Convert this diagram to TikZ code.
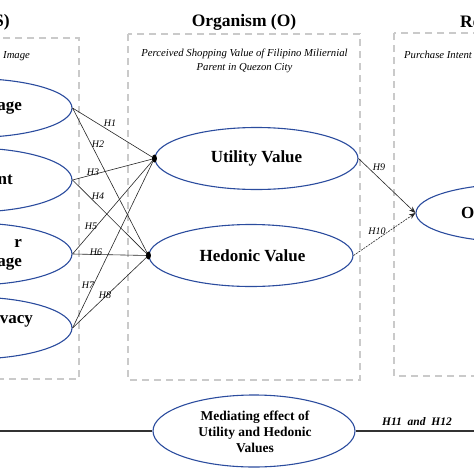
\documentclass[tikz,border=0pt]{standalone}
\usepackage{fontspec}
\setmainfont{Liberation Serif}
\usetikzlibrary{shapes.geometric,arrows.meta}
\definecolor{ellblue}{HTML}{2B4C9E}
\definecolor{boxgray}{HTML}{CACACA}
\tikzset{
  oval/.style={ellipse, draw=ellblue, line width=1.1pt, inner sep=0pt},
  dbox/.style={draw=boxgray, line width=1.3pt, dash pattern=on 7pt off 5pt},
  link/.style={draw=black!85, line width=0.6pt},
  hlab/.style={font=\fontsize{10}{11}\selectfont\itshape, inner sep=0pt},
  ovtext/.style={font=\fontsize{17}{19}\selectfont\bfseries, inner sep=0pt, align=center},
  boxtext/.style={font=\fontsize{10.7}{14}\selectfont\itshape, inner sep=0pt, align=center},
  title/.style={font=\fontsize{17.5}{20}\selectfont\bfseries, inner sep=0pt},
  dotmark/.style={ellipse, fill=black, inner sep=0pt, minimum width=5pt, minimum height=8pt}
}
\begin{document}
\begin{tikzpicture}[x=1pt,y=-1pt]
\useasboundingbox (0,0) rectangle (474,474);
\clip (0,0) rectangle (474,474);
% dashed boxes
\draw[dbox] (-10,38) rectangle (79,379);
\draw[dbox] (128,34) rectangle (360,380);
\draw[dbox] (394,33) rectangle (490,376);
% titles
\node[title, anchor=east] (tS) at (10,22) {S)};
\node[title] (tO) at (244,22) {Organism (O)};
\node[title, anchor=west] (tR) at (460,22) {Re};
% box captions
\node[boxtext, anchor=west] (capS) at (3,56) {Image};
\node[boxtext] (capO) at (244.5,61) {Perceived Shopping Value of Filipino Miliernial\\Parent in Quezon City};
\node[boxtext, anchor=west] (capR) at (404,55) {Purchase Intent};
% left ellipses
\node[oval, minimum width=200pt, minimum height=59pt] (l1) at (-28,108) {};
\node[oval, minimum width=200pt, minimum height=64pt] (l2) at (-28,180) {};
\node[oval, minimum width=200pt, minimum height=62pt] (l3) at (-28,254) {};
\node[oval, minimum width=200pt, minimum height=62pt] (l4) at (-28,328) {};
\node[ovtext, anchor=east] (l1t) at (22,108) {age};
\node[ovtext, anchor=east] (l2t) at (13,180) {nt};
\node[ovtext, anchor=east, align=right] (l3t) at (22,255) {r\\age};
\node[ovtext, anchor=east] (l4t) at (33,321) {vacy};
% middle ellipses
\node[oval, minimum width=203pt, minimum height=62pt] (u) at (256.5,158.5) {};
\node[ovtext] (ut) at (256.5,158.5) {Utility Value};
\node[oval, minimum width=204pt, minimum height=62pt] (h) at (251,255.5) {};
\node[ovtext] (ht) at (252.5,256) {Hedonic Value};
% right ellipse
\node[oval, minimum width=200pt, minimum height=58pt] (r) at (516,213) {};
\node[ovtext, anchor=west] (rt) at (461,213) {O};
% links
\draw[link] (l1.east) -- (u.west);
\draw[link] (l1.east) -- (h.west);
\draw[link] (l2.east) -- (u.west);
\draw[link] (l2.east) -- (h.west);
\draw[link] (l3.east) -- (u.west);
\draw[link] (l3.east) -- (h.west);
\draw[link] (l4.east) -- (u.west);
\draw[link] (l4.east) -- (h.west);
\node[dotmark] (du) at (u.west) {};
\node[dotmark] (dh) at (h.west) {};
\draw[link, -{Stealth[length=6.5pt,width=5pt]}] (u.east) -- (r.west);
\draw[link, dash pattern=on 2pt off 1pt, -{Stealth[length=6.5pt,width=5pt]}] (h.east) -- (r.west);
% hypothesis labels
\node[hlab] (H1) at (110,123) {H1};
\node[hlab] (H2) at (98,144) {H2};
\node[hlab] (H3) at (93,172) {H3};
\node[hlab] (H4) at (98,196) {H4};
\node[hlab] (H5) at (91,226) {H5};
\node[hlab] (H6) at (96,252) {H6};
\node[hlab] (H7) at (88,285) {H7};
\node[hlab] (H8) at (105,295) {H8};
\node[hlab] (H9) at (379,167) {H9};
\node[hlab] (H10) at (377,231) {H10};
% mediating
\node[oval, minimum width=202pt, minimum height=72pt] (m) at (254,431) {};
\node[font=\fontsize{13.5}{16}\selectfont\bfseries, align=center, inner sep=0pt] (mt) at (255,432) {Mediating effect of\\Utility and Hedonic\\Values};
\coordinate (bl) at (-5,431);
\coordinate (br) at (480,431);
\draw[black!80, line width=1.4pt] (bl) -- (m.west);
\draw[black!80, line width=1.4pt] (m.east) -- (br);
\node[font=\fontsize{11.5}{13}\selectfont\bfseries\itshape, inner sep=0pt] (hm) at (417,422) {H11\ \ and\ \ H12};
\end{tikzpicture}
\end{document}
